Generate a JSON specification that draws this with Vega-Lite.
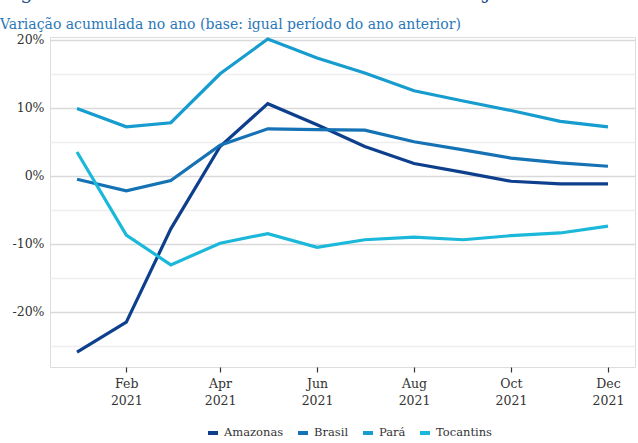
{
  "$schema": "https://vega.github.io/schema/vega-lite/v6.json",
  "width": 585,
  "height": 330,
  "autosize": {"type": "none"},
  "padding": {"left": 50, "top": 37, "right": 3, "bottom": 76},
  "background": "white",
  "title": {
    "text": "Figura 4.1: Volume de vendas no comércio varejista",
    "subtitle": "Variação acumulada no ano (base: igual período do ano anterior)",
    "anchor": "start",
    "frame": "group",
    "dx": -50,
    "offset": 1,
    "font": "DejaVu Serif",
    "fontSize": 20,
    "fontWeight": "normal",
    "color": "#1f4e8a",
    "subtitleFont": "DejaVu Serif",
    "subtitleFontSize": 14,
    "subtitleColor": "#2a78b8",
    "subtitlePadding": 15
  },
  "data": {
    "values": [
      {"date": "2021-01-01", "regiao": "Amazonas", "valor": -25.9},
      {"date": "2021-02-01", "regiao": "Amazonas", "valor": -21.5},
      {"date": "2021-03-01", "regiao": "Amazonas", "valor": -7.8},
      {"date": "2021-04-01", "regiao": "Amazonas", "valor": 4.3},
      {"date": "2021-05-01", "regiao": "Amazonas", "valor": 10.6},
      {"date": "2021-06-01", "regiao": "Amazonas", "valor": 7.5},
      {"date": "2021-07-01", "regiao": "Amazonas", "valor": 4.3},
      {"date": "2021-08-01", "regiao": "Amazonas", "valor": 1.8},
      {"date": "2021-09-01", "regiao": "Amazonas", "valor": 0.5},
      {"date": "2021-10-01", "regiao": "Amazonas", "valor": -0.8},
      {"date": "2021-11-01", "regiao": "Amazonas", "valor": -1.2},
      {"date": "2021-12-01", "regiao": "Amazonas", "valor": -1.2},
      {"date": "2021-01-01", "regiao": "Brasil", "valor": -0.5},
      {"date": "2021-02-01", "regiao": "Brasil", "valor": -2.2},
      {"date": "2021-03-01", "regiao": "Brasil", "valor": -0.7},
      {"date": "2021-04-01", "regiao": "Brasil", "valor": 4.5},
      {"date": "2021-05-01", "regiao": "Brasil", "valor": 6.9},
      {"date": "2021-06-01", "regiao": "Brasil", "valor": 6.8},
      {"date": "2021-07-01", "regiao": "Brasil", "valor": 6.7},
      {"date": "2021-08-01", "regiao": "Brasil", "valor": 5.0},
      {"date": "2021-09-01", "regiao": "Brasil", "valor": 3.8},
      {"date": "2021-10-01", "regiao": "Brasil", "valor": 2.6},
      {"date": "2021-11-01", "regiao": "Brasil", "valor": 1.9},
      {"date": "2021-12-01", "regiao": "Brasil", "valor": 1.4},
      {"date": "2021-01-01", "regiao": "Pará", "valor": 9.9},
      {"date": "2021-02-01", "regiao": "Pará", "valor": 7.2},
      {"date": "2021-03-01", "regiao": "Pará", "valor": 7.8},
      {"date": "2021-04-01", "regiao": "Pará", "valor": 15.0},
      {"date": "2021-05-01", "regiao": "Pará", "valor": 20.1},
      {"date": "2021-06-01", "regiao": "Pará", "valor": 17.3},
      {"date": "2021-07-01", "regiao": "Pará", "valor": 15.1},
      {"date": "2021-08-01", "regiao": "Pará", "valor": 12.5},
      {"date": "2021-09-01", "regiao": "Pará", "valor": 11.0},
      {"date": "2021-10-01", "regiao": "Pará", "valor": 9.6},
      {"date": "2021-11-01", "regiao": "Pará", "valor": 8.0},
      {"date": "2021-12-01", "regiao": "Pará", "valor": 7.2},
      {"date": "2021-01-01", "regiao": "Tocantins", "valor": 3.5},
      {"date": "2021-02-01", "regiao": "Tocantins", "valor": -8.7},
      {"date": "2021-03-01", "regiao": "Tocantins", "valor": -13.1},
      {"date": "2021-04-01", "regiao": "Tocantins", "valor": -9.9},
      {"date": "2021-05-01", "regiao": "Tocantins", "valor": -8.5},
      {"date": "2021-06-01", "regiao": "Tocantins", "valor": -10.5},
      {"date": "2021-07-01", "regiao": "Tocantins", "valor": -9.4},
      {"date": "2021-08-01", "regiao": "Tocantins", "valor": -9.0},
      {"date": "2021-09-01", "regiao": "Tocantins", "valor": -9.4},
      {"date": "2021-10-01", "regiao": "Tocantins", "valor": -8.8},
      {"date": "2021-11-01", "regiao": "Tocantins", "valor": -8.4},
      {"date": "2021-12-01", "regiao": "Tocantins", "valor": -7.4}
    ]
  },
  "mark": {"type": "line", "strokeWidth": 3.2},
  "encoding": {
    "x": {
      "field": "date",
      "type": "temporal",
      "title": null,
      "scale": {
        "type": "utc",
        "domain": [
          {"year": 2020, "month": 12, "date": 15, "utc": true},
          {"year": 2021, "month": 12, "date": 18, "utc": true}
        ]
      },
      "axis": {
        "values": [
          {"year": 2021, "month": 2, "date": 1, "utc": true},
          {"year": 2021, "month": 4, "date": 1, "utc": true},
          {"year": 2021, "month": 6, "date": 1, "utc": true},
          {"year": 2021, "month": 8, "date": 1, "utc": true},
          {"year": 2021, "month": 10, "date": 1, "utc": true},
          {"year": 2021, "month": 12, "date": 1, "utc": true}
        ],
        "labelExpr": "[utcFormat(datum.value, '%b'), utcFormat(datum.value, '%Y')]",
        "grid": false,
        "domain": false,
        "ticks": true,
        "tickColor": "#333333",
        "tickSize": 5,
        "tickWidth": 1.2,
        "labelPadding": 5,
        "labelFont": "DejaVu Serif",
        "labelFontSize": 12.5,
        "labelColor": "#333333",
        "labelLineHeight": 17
      }
    },
    "y": {
      "field": "valor",
      "type": "quantitative",
      "title": null,
      "scale": {"domain": [-28.1, 20.4], "nice": false, "zero": false},
      "axis": {
        "values": [-25, -20, -15, -10, -5, 0, 5, 10, 15, 20],
        "labelExpr": "datum.value % 10 === 0 ? datum.value + '%' : ''",
        "grid": true,
        "gridColor": {"condition": {"test": "datum.value % 10 === 0", "value": "#d9d9d9"}, "value": "#eeeeee"},
        "gridWidth": 1.5,
        "domain": false,
        "ticks": false,
        "labelPadding": 6,
        "labelFont": "DejaVu Serif",
        "labelFontSize": 12.5,
        "labelColor": "#333333"
      }
    },
    "color": {
      "field": "regiao",
      "type": "nominal",
      "title": null,
      "scale": {
        "domain": ["Amazonas", "Brasil", "Pará", "Tocantins"],
        "range": ["#0d3f8c", "#1472b5", "#169cce", "#1bb8da"]
      },
      "legend": {
        "orient": "none",
        "legendX": 156,
        "legendY": 389,
        "direction": "horizontal",
        "symbolType": "stroke",
        "symbolStrokeWidth": 4,
        "symbolSize": 100,
        "labelFont": "DejaVu Serif",
        "labelFontSize": 11.5,
        "labelOffset": 4,
        "labelColor": "#333333",
        "columnPadding": 6
      }
    }
  }
}
